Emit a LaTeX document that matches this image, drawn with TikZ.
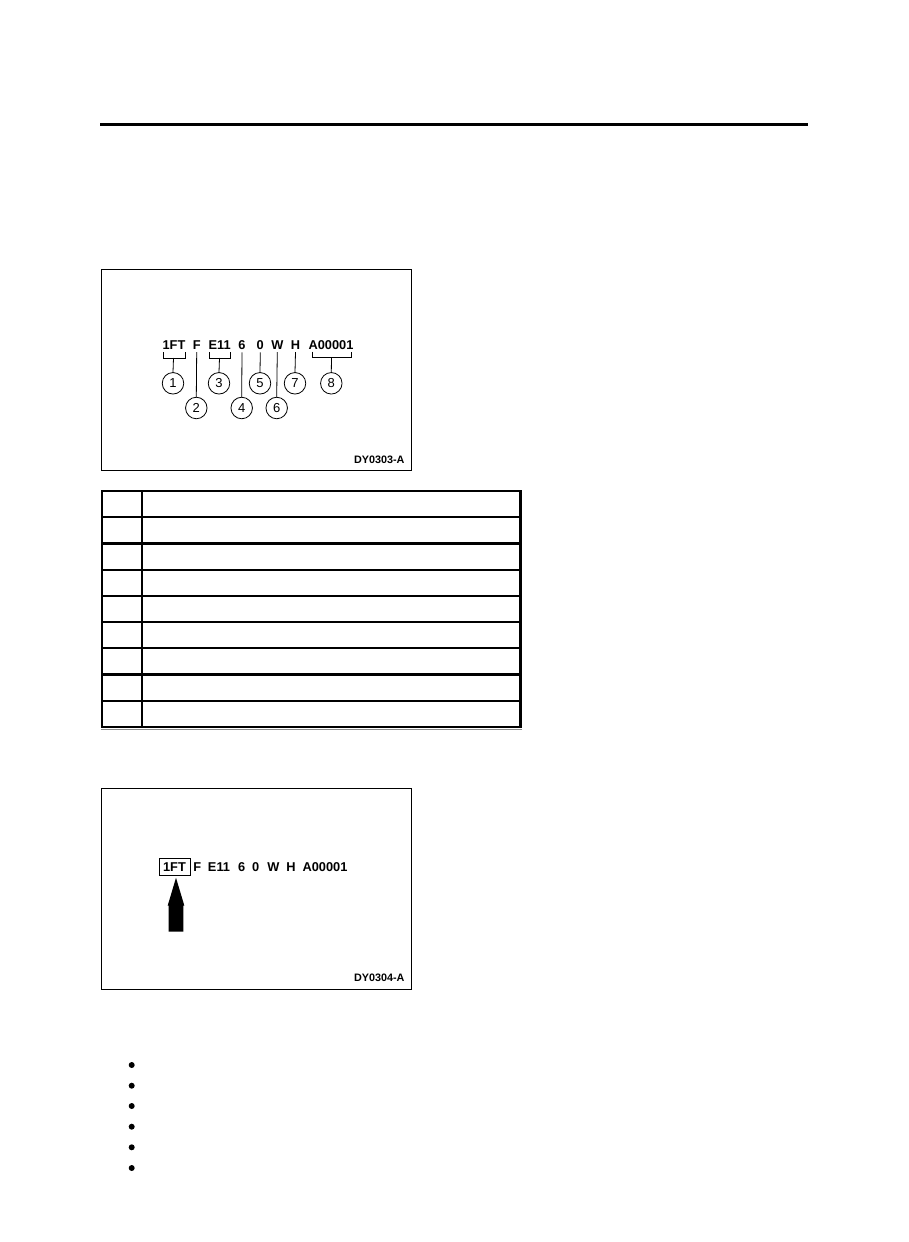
\documentclass[tikz,border=0pt]{standalone}
\usepackage{fontspec}
\setmainfont{Liberation Sans}
\begin{document}
\begin{tikzpicture}[x=1pt,y=-1pt,
  frame/.style={draw=black,line width=1.1pt},
  tline/.style={line width=2.2pt,line cap=rect},
  code/.style={font=\fontsize{12.8}{12.8}\selectfont\bfseries,inner sep=0pt,anchor=base},
  num/.style={draw,circle,line width=0.8pt,minimum size=21.5pt,inner sep=0pt,font=\fontsize{13}{13}\selectfont},
  lead/.style={line width=0.8pt},
  fig/.style={font=\fontsize{10.8}{10.8}\selectfont\bfseries,inner sep=0pt,anchor=base},
  dot/.style={circle,fill=black,minimum size=6pt,inner sep=0pt}]
\useasboundingbox (0,0) rectangle (909,1242);
\fill[white] (0,0) rectangle (909,1242);
% top rule
\coordinate (ruleL) at (100,124.5);
\coordinate (ruleR) at (807.5,124.5);
\draw[line width=2.2pt] (ruleL) -- (ruleR);

% ---------- figure 1 ----------
\node[frame,minimum width=310pt,minimum height=201pt,anchor=north west,inner sep=0pt] (box1) at (101,269) {};
\node[code] (t1) at (174,349) {1FT};
\node[code] (t2) at (196.7,349) {F};
\node[code] (t3) at (219.7,349) {E11};
\node[code] (t4) at (242,349) {6};
\node[code] (t5) at (260.3,349) {0};
\node[code] (t6) at (277.3,349) {W};
\node[code] (t7) at (295.5,349) {H};
\node[code] (t8) at (331,349) {A00001};
\node[num] (c1) at (173,383.3) {1};
\node[num] (c2) at (196.3,408) {2};
\node[num] (c3) at (219,383.3) {3};
\node[num] (c4) at (241.7,408) {4};
\node[num] (c5) at (260,383.3) {5};
\node[num] (c6) at (276.7,408) {6};
\node[num] (c7) at (295,383.3) {7};
\node[num] (c8) at (331.3,383.3) {8};
% brackets
\draw[lead] (163.5,352) |- (185,358) -- (185,352);
\draw[lead] (173.5,358) -- (c1.north);
\draw[lead] (209.5,352) |- (230,358) -- (230,352);
\draw[lead] (219.5,358) -- (c3.north);
\draw[lead] (312,351.5) |- (351,357.5) -- (351,351.5);
\draw[lead] (331.5,357.5) -- (c8.north);
% single leaders
\draw[lead] (t2.south) ++(0,3) coordinate (l2) -- (c2.north);
\draw[lead] (t4.south) ++(0,3) coordinate (l4) -- (c4.north);
\draw[lead] (t5.south) ++(0,3) coordinate (l5) -- (c5.north);
\draw[lead] (t6.south) ++(0,3) coordinate (l6) -- (c6.north);
\draw[lead] (t7.south) ++(0,3) coordinate (l7) -- (c7.north);
\node[fig] (f1) at (379.3,463) {DY0303-A};

% ---------- table ----------
\foreach \i in {0,...,9} {
  \coordinate (rl\i) at (102,491+26.2*\i);
  \coordinate (rr\i) at (520.5,491+26.2*\i);
  \draw[tline] (rl\i) -- (rr\i);
}
\draw[tline] (rl0) -- (rl9);
\draw[tline] (rr0) -- (rr9);
\coordinate (cdT) at (141.7,491);
\coordinate (cdB) at (141.7,726.8);
\draw[tline] (cdT) -- (cdB);
\coordinate (dblL) at (101,729.5);
\coordinate (dblR) at (521.5,729.5);
\draw[line width=0.8pt,black!45] (dblL) -- (dblR);

% ---------- figure 2 ----------
\node[frame,minimum width=310pt,minimum height=201pt,anchor=north west,inner sep=0pt] (box2) at (101,788) {};
\node[code] (u1) at (174.5,871) {1FT};
\node[code] (u2) at (197.3,871) {F};
\node[code] (u3) at (219,871) {E11};
\node[code] (u4) at (241.7,871) {6};
\node[code] (u5) at (255.7,871) {0};
\node[code] (u6) at (273.3,871) {W};
\node[code] (u7) at (291,871) {H};
\node[code] (u8) at (325,871) {A00001};
\node[draw,line width=0.8pt,minimum width=31.5pt,minimum height=17pt,inner sep=0pt] (hl) at (175,867.3) {};
\fill (176,877.8) -- (184.3,905.5) -- (183.3,905.5) -- (183.3,931.7) -- (168.7,931.7) -- (168.7,905.5) -- (167.7,905.5) -- cycle;
\node[fig] (f2) at (379.3,981.5) {DY0304-A};

% ---------- bullets ----------
\foreach \i/\y in {1/1065,2/1085.7,3/1106,4/1126.7,5/1147.3,6/1168} {
  \node[dot] (b\i) at (131.7,\y) {};
}
\end{tikzpicture}
\end{document}
